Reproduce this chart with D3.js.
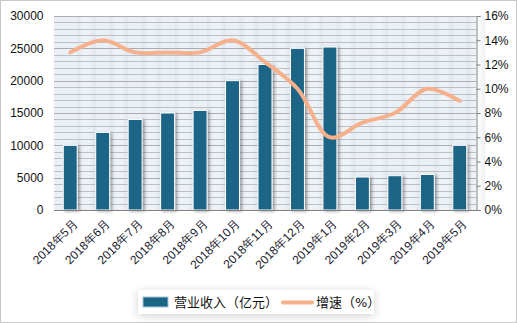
<!DOCTYPE html>
<html>
<head>
<meta charset="utf-8">
<script src="https://cdn.jsdelivr.net/npm/d3@7"></script>
<style>
  body { margin: 0; background: #fff; }
  svg { display: block; font-family: "DejaVu Sans", "Noto Sans CJK SC", sans-serif; }
</style>
</head>
<body>
<svg id="chart" width="517" height="323"></svg>
<script>
// categories and values
const months = ["2018年5月", "2018年6月", "2018年7月", "2018年8月", "2018年9月", "2018年10月",
  "2018年11月", "2018年12月", "2019年1月", "2019年2月", "2019年3月", "2019年4月", "2019年5月"];
const revenue = [10000, 12000, 14000, 15000, 15400, 20000, 22500, 25000, 25200, 5100, 5300, 5500, 10000];
const growth = [13, 14, 13, 13, 13, 14, 12.2, 10, 6, 7.2, 8, 10, 9];
const leftTicks = [0, 5000, 10000, 15000, 20000, 25000, 30000];
const rightTicks = [0, 2, 4, 6, 8, 10, 12, 14, 16];
const seriesNames = ["营业收入（亿元）", "增速（%）"];

const svg = d3.select("#chart");
const m = { left: 54, right: 476, top: 16, bottom: 210 };

// outer frame
svg.append("rect").attr("x", 0.5).attr("y", 0.5).attr("width", 516).attr("height", 322)
  .attr("fill", "#fff").attr("stroke", "#c8c8c8");

const defs = svg.append("defs");
const sh = defs.append("filter").attr("id", "shadow").attr("x", "-20%").attr("y", "-20%")
  .attr("width", "160%").attr("height", "160%");
sh.append("feDropShadow").attr("dx", 2).attr("dy", 1).attr("stdDeviation", 1.5)
  .attr("flood-color", "#000").attr("flood-opacity", 0.35);
const lsh = defs.append("filter").attr("id", "lshadow").attr("x", "-10%").attr("y", "-40%")
  .attr("width", "120%").attr("height", "180%");
lsh.append("feDropShadow").attr("dx", 0).attr("dy", 2).attr("stdDeviation", 4)
  .attr("flood-color", "#000").attr("flood-opacity", 0.18);

const x = d3.scaleBand().domain(months).range([m.left, m.right]).paddingInner(0.57).paddingOuter(0.285);
const yL = d3.scaleLinear().domain([0, 30000]).range([m.bottom, m.top]);
const yR = d3.scaleLinear().domain([0, 16]).range([m.bottom, m.top]);

// plot background
svg.append("rect").attr("x", m.left).attr("y", m.top)
  .attr("width", m.right - m.left).attr("height", m.bottom - m.top).attr("fill", "#eaf0f6");

// soft shading between bars
const step = x.step();
const grad = defs.append("linearGradient").attr("id", "band");
grad.append("stop").attr("offset", "0%").attr("stop-color", "#cfd4d9");
grad.append("stop").attr("offset", "35%").attr("stop-color", "#f4f7fa");
grad.append("stop").attr("offset", "65%").attr("stop-color", "#f4f7fa");
grad.append("stop").attr("offset", "100%").attr("stop-color", "#cfd4d9");
svg.append("g").selectAll("rect").data(months).join("rect")
  .attr("x", d => x(d) + x.bandwidth())
  .attr("y", m.top).attr("width", step - x.bandwidth()).attr("height", m.bottom - m.top)
  .attr("fill", "url(#band)").attr("opacity", 0.35);

// gridlines every 1000
const grid = d3.range(1000, 30001, 1000);
svg.append("g").selectAll("line").data(grid).join("line")
  .attr("x1", m.left).attr("x2", m.right)
  .attr("y1", d => Math.round(yL(d)) + 0.5).attr("y2", d => Math.round(yL(d)) + 0.5)
  .attr("stroke", d => d % 5000 === 0 ? "#a9adb1" : "#bcc0c4").attr("stroke-width", 1);

// bars
svg.append("g").selectAll("rect").data(revenue).join("rect")
  .attr("x", (d, i) => x(months[i]))
  .attr("y", d => yL(d))
  .attr("width", x.bandwidth())
  .attr("height", d => yL(0) - yL(d))
  .attr("fill", "#1b6586").attr("stroke", "#fff").attr("stroke-width", 1)
  .attr("filter", "url(#shadow)");

// growth line
const line = d3.line()
  .x((d, i) => x(months[i]) + x.bandwidth() / 2)
  .y(d => yR(d))
  .curve(d3.curveCatmullRom.alpha(0.5));
svg.append("path").datum(growth).attr("d", line)
  .attr("fill", "none").attr("stroke", "#f6b08c").attr("stroke-width", 4)
  .attr("stroke-linecap", "round").attr("stroke-linejoin", "round");

// left axis
const axL = svg.append("g").attr("transform", `translate(${m.left - 0.5},0)`)
  .call(d3.axisLeft(yL).tickValues(leftTicks).tickSize(0).tickPadding(10).tickFormat(d3.format("d")));
axL.select(".domain").remove();
axL.selectAll("text").attr("font-size", 12).attr("fill", "#111");

// right axis
const axR = svg.append("g").attr("transform", `translate(${m.right + 0.5},0)`)
  .call(d3.axisRight(yR).tickValues(rightTicks).tickSize(4).tickPadding(4).tickFormat(d => d + "%"));
axR.select(".domain").attr("stroke", "#808080");
axR.selectAll(".tick line").attr("stroke", "#808080");
axR.selectAll("text").attr("font-size", 12).attr("fill", "#111");

// bottom axis
const axB = svg.append("g").attr("transform", `translate(0,${m.bottom + 0.5})`)
  .call(d3.axisBottom(x).tickSize(0).tickPadding(0));
axB.select(".domain").attr("stroke", "#808080").attr("d", `M${m.left},0H${m.right + 4}`);
axB.selectAll("text")
  .attr("font-size", 12).attr("fill", "#1a1a2e")
  .attr("text-anchor", "end").attr("dy", 0)
  .attr("transform", "translate(8,14) rotate(-45)");

// legend
const lg = svg.append("g").attr("transform", "translate(138,290)");
lg.append("rect").attr("width", 236).attr("height", 24).attr("fill", "#fff").attr("filter", "url(#lshadow)");
lg.append("rect").attr("x", 5).attr("y", 7).attr("width", 25).attr("height", 10)
  .attr("fill", "#1b6586").attr("stroke", "#a9c4d6").attr("stroke-width", 1);
lg.append("text").attr("x", 36).attr("y", 17).attr("font-size", 13).attr("fill", "#111").text(seriesNames[0]);
lg.append("line").attr("x1", 145).attr("x2", 174).attr("y1", 12.5).attr("y2", 12.5)
  .attr("stroke", "#f6b08c").attr("stroke-width", 4).attr("stroke-linecap", "round");
lg.append("text").attr("x", 178).attr("y", 17).attr("font-size", 13).attr("fill", "#111").text(seriesNames[1]);
</script>
</body>
</html>
